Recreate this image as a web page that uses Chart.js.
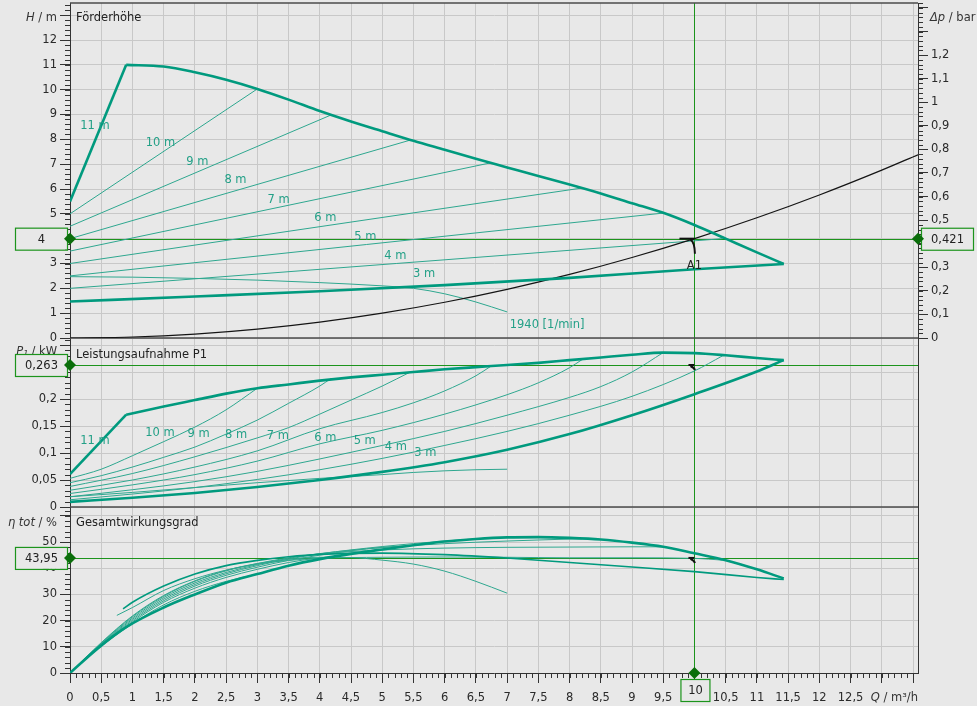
<!DOCTYPE html>
<html lang="de">
<head>
<meta charset="utf-8">
<title>Pumpenkennlinie</title>
<script src="https://cdn.jsdelivr.net/npm/chart.js@4.4.1/dist/chart.umd.min.js"></script>
<style>
  html, body { margin: 0; padding: 0; background: #e8e8e8; }
  #box { width: 977px; height: 706px; }
</style>
</head>
<body>
<div id="box"><canvas id="kennlinie" width="977" height="706"></canvas></div>
<script>
// Achsenbereiche
const mengeMax = 13.58;       // Q in m³/h
const hoeheMax = 13.49;       // H in m
const druckMax = 1.4209;      // Δp in bar (4 m ≙ 0,421 bar)
const leistungMax = 0.313;    // P1 in kW
const wirkungMax = 63.4;      // η in %

// Betriebspunkt A1
const betriebQ = 10;
const betriebH = 4;
const betriebDp = 0.421;
const betriebP = 0.263;
const betriebEta = 43.95;

// Förderhöhe [Q, H]
const h11 = [[0, 5.5], [0.9, 11.0]];
const hMax = [[0.9, 11.0], [1.5, 10.93], [2, 10.7], [2.5, 10.4], [3, 10.03], [3.5, 9.6], [4, 9.14], [4.5, 8.72], [5, 8.33], [5.5, 7.94], [6, 7.58], [6.5, 7.22], [7, 6.87], [7.5, 6.52], [8, 6.18], [8.5, 5.82], [9, 5.43], [9.5, 5.04], [10, 4.55], [10.5, 4.0], [11, 3.45], [11.43, 2.98]];
const h10 = [[0, 5.0], [3.0, 10.03]];
const h9 = [[0, 4.5], [4.18, 8.98]];
const h8 = [[0, 4.0], [5.45, 7.97]];
const h7 = [[0, 3.5], [6.73, 7.05]];
const h6 = [[0, 3.0], [8.2, 6.04]];
const h5 = [[0, 2.5], [9.5, 5.03]];
const h4 = [[0, 2.0], [10.45, 4.0]];
const h3 = [[0, 1.47], [2, 1.67], [4, 1.88], [6, 2.13], [8, 2.42], [10, 2.77], [11.43, 2.98]];
const h1940 = [[0, 2.47], [1, 2.45], [2, 2.4], [3, 2.33], [4, 2.23], [5, 2.1], [5.5, 2.0], [6, 1.78], [6.5, 1.45], [7, 1.05]];
const hAnlage = [[0, 0], [1, 0.04], [2, 0.16], [3, 0.36], [4, 0.64], [5, 1.0], [6, 1.44], [7, 1.96], [8, 2.56], [9, 3.24], [10, 4.0], [11, 4.84], [12, 5.76], [13, 6.76], [13.58, 7.38]];

// Leistungsaufnahme P1 [Q, kW]
const p11 = [[0, 0.061], [0.9, 0.171]];
const pMax = [[0.9, 0.171], [1.5, 0.186], [2, 0.198], [2.5, 0.21], [3, 0.22], [3.5, 0.227], [4, 0.234], [4.5, 0.24], [5, 0.245], [5.5, 0.25], [6, 0.255], [6.5, 0.259], [7, 0.263], [7.5, 0.267], [8, 0.272], [8.5, 0.277], [9, 0.282], [9.5, 0.286], [10, 0.285], [10.5, 0.281], [11, 0.276], [11.43, 0.272]];
const p10 = [[0, 0.053], [0.5, 0.07], [1, 0.095], [1.5, 0.121], [2, 0.148], [2.5, 0.18], [3, 0.22]];
const p9 = [[0, 0.045], [0.5, 0.058], [1, 0.074], [1.5, 0.092], [2, 0.111], [2.5, 0.135], [3, 0.161], [3.5, 0.192], [4, 0.224], [4.18, 0.238]];
const p8 = [[0, 0.038], [1, 0.062], [2, 0.093], [3, 0.128], [3.5, 0.147], [4, 0.172], [4.5, 0.198], [5, 0.224], [5.45, 0.25]];
const p7 = [[0, 0.031], [1, 0.05], [2, 0.074], [3, 0.104], [4, 0.145], [5, 0.175], [5.5, 0.193], [6, 0.215], [6.5, 0.243], [6.73, 0.26]];
const p6 = [[0, 0.025], [1, 0.041], [2, 0.06], [3, 0.085], [4, 0.117], [5, 0.142], [6, 0.172], [7, 0.208], [7.5, 0.23], [8, 0.258], [8.2, 0.273]];
const p5 = [[0, 0.019], [1, 0.032], [2, 0.047], [3, 0.066], [4, 0.089], [5, 0.114], [6, 0.14], [7, 0.17], [8, 0.203], [8.5, 0.223], [9, 0.25], [9.5, 0.286]];
const p4 = [[0, 0.0134], [1, 0.024], [2, 0.036], [3, 0.051], [4, 0.069], [5, 0.09], [6, 0.114], [7, 0.14], [8, 0.17], [9, 0.205], [10, 0.252], [10.45, 0.28]];
const p3 = [[0, 0.0095], [1, 0.017], [2, 0.026], [3, 0.037], [4, 0.05], [5, 0.065], [6, 0.083], [7, 0.106], [8, 0.135], [9, 0.17], [10, 0.209], [11, 0.251], [11.43, 0.272]];
const p1940 = [[0, 0.019], [1, 0.027], [2, 0.036], [3, 0.045], [4, 0.053], [5, 0.06], [5.5, 0.064], [6, 0.067], [6.5, 0.069], [7, 0.07]];

// Gesamtwirkungsgrad [Q, %]
const etaMax = [[0, 0], [0.45, 9.5], [0.9, 17.5], [1.5, 25], [2, 30], [2.5, 34.5], [3, 37.8], [3.5, 41], [4, 43.5], [4.5, 45.5], [5, 47.2], [5.5, 48.8], [6, 50.2], [6.5, 51.2], [7, 51.8], [7.5, 51.9], [8, 51.6], [8.5, 51], [9, 49.8], [9.5, 48.2], [10, 45.7], [10.5, 43.1], [11, 39.6], [11.43, 36.1]];
const eta10 = [[0, 0], [0.5, 10.2], [1, 18.8], [1.5, 26], [2, 31.2], [2.5, 35], [3, 37.8]];
const eta9 = [[0, 0], [0.5, 10.6], [1, 19.5], [1.5, 27], [2, 32.4], [2.5, 36.5], [3, 39.6], [3.5, 42.2], [4, 44], [4.18, 44.3]];
const eta8 = [[0, 0], [0.5, 10.8], [1, 20], [1.5, 27.6], [2, 33.2], [2.5, 37.3], [3, 40.4], [3.5, 43], [4, 45], [4.5, 46.7], [5, 48], [5.45, 48.7]];
const eta7 = [[0, 0], [0.5, 11], [1, 20.5], [1.5, 28.2], [2, 33.8], [2.5, 37.9], [3, 41], [3.5, 43.5], [4, 45.5], [5, 48.3], [6, 50.4], [6.73, 51.6]];
const eta6 = [[0, 0], [0.5, 11.2], [1, 21], [1.5, 28.8], [2, 34.4], [2.5, 38.4], [3, 41.4], [3.5, 43.8], [4, 45.6], [5, 47.9], [6, 49.4], [7, 50.4], [7.5, 50.8], [8.2, 51.3]];
const eta5 = [[0, 0], [0.5, 11.4], [1, 21.5], [1.5, 29.3], [2, 35], [2.5, 39], [3, 41.8], [3.5, 44], [4, 45.5], [5, 47], [6, 47.7], [7, 48], [8, 48.1], [9, 48.2], [9.5, 48.2]];
const eta4 = [[0.75, 22], [1, 25], [1.5, 31.5], [2, 36], [2.5, 39.3], [3, 41.6], [3.5, 43], [4, 43.8], [5, 44.2], [6, 44.3], [7, 44.2], [8, 44], [9, 44], [10, 43.8], [10.45, 43.1]];
const eta3 = [[0.85, 24.5], [1, 27], [1.5, 33.2], [2, 37.8], [2.5, 41], [3, 43], [3.5, 44.4], [4, 45.3], [5, 45.8], [6, 45.2], [7, 43.9], [8, 42.2], [9, 40.5], [10, 38.7], [11, 36.5], [11.43, 35.7]];
const eta1940 = [[0, 0], [0.5, 11.6], [1, 21.8], [1.5, 29.6], [2, 35.2], [2.5, 39.2], [3, 41.8], [3.5, 43.4], [4, 44.2], [4.5, 44.1], [5, 43.1], [5.5, 41.6], [6, 38.9], [6.5, 35], [7, 30.5]];

const TUERKIS = '#009a7e';
const TUERKIS_HELL = '#2ea78f';
const GRUEN = '#1c941c';
const SCHRIFT = '"DejaVu Sans", sans-serif';
const GROESSE = 11.5;

function kurve(daten, achse, dick, farbe) {
  return {
    data: daten,
    yAxisID: achse,
    borderColor: farbe || (dick ? TUERKIS : TUERKIS_HELL),
    borderWidth: dick || 1,
    pointRadius: 0,
    fill: false,
    cubicInterpolationMode: daten.length > 2 ? 'monotone' : 'default',
    tension: 0
  };
}

const datensaetze = [
  kurve(h11, 'yH', 2.6), kurve(hMax, 'yH', 2.6), kurve(h3, 'yH', 2.6),
  kurve(p11, 'yP', 2.6), kurve(pMax, 'yP', 2.6), kurve(p3, 'yP', 2.6),
  kurve(etaMax, 'yE', 2.6), kurve(eta3, 'yE', 1.6),
  kurve(hAnlage, 'yH', 1.2, '#141414'),
  kurve(h10, 'yH'), kurve(h9, 'yH'), kurve(h8, 'yH'), kurve(h7, 'yH'),
  kurve(h6, 'yH'), kurve(h5, 'yH'), kurve(h4, 'yH'), kurve(h1940, 'yH'),
  kurve(p10, 'yP'), kurve(p9, 'yP'), kurve(p8, 'yP'), kurve(p7, 'yP'),
  kurve(p6, 'yP'), kurve(p5, 'yP'), kurve(p4, 'yP'), kurve(p1940, 'yP'),
  kurve(eta10, 'yE'), kurve(eta9, 'yE'), kurve(eta8, 'yE'), kurve(eta7, 'yE'),
  kurve(eta6, 'yE'), kurve(eta5, 'yE'), kurve(eta4, 'yE'), kurve(eta1940, 'yE')
];

const zahl = v => String(Math.round(v * 1000) / 1000).replace('.', ',');

// Kurvenbeschriftungen (Q, Wert)
const texteH = [['11 m', 0.4, 8.54], ['10 m', 1.45, 7.85], ['9 m', 2.04, 7.09], ['8 m', 2.65, 6.36], ['7 m', 3.34, 5.56], ['6 m', 4.09, 4.83], ['5 m', 4.73, 4.07], ['4 m', 5.21, 3.3], ['3 m', 5.67, 2.58], ['1940 [1/min]', 7.64, 0.52]];
const texteP = [['11 m', 0.4, 0.1228], ['10 m', 1.44, 0.1365], ['9 m', 2.06, 0.1352], ['8 m', 2.66, 0.1333], ['7 m', 3.33, 0.1315], ['6 m', 4.09, 0.1275], ['5 m', 4.72, 0.1228], ['4 m', 5.22, 0.1105], ['3 m', 5.69, 0.0994]];

const feinteilung = [
  {achse: 'x', schritt: 0.1, bis: mengeMax},
  {achse: 'yH', schritt: 0.2, bis: hoeheMax},
  {achse: 'yP', schritt: 0.01, bis: leistungMax},
  {achse: 'yE', schritt: 2, bis: wirkungMax},
  {achse: 'yDp', schritt: 0.02, bis: druckMax}
];

function schrift(kursiv) {
  return (kursiv ? 'italic ' : '') + GROESSE + 'px ' + SCHRIFT;
}

function teileText(ctx, teile, x, y, rechtsbuendig) {
  let breite = 0;
  for (const [t, k] of teile) {
    ctx.font = schrift(k);
    breite += ctx.measureText(t).width;
  }
  let xx = rechtsbuendig ? x - breite : x;
  ctx.textAlign = 'left';
  ctx.textBaseline = 'middle';
  for (const [t, k] of teile) {
    ctx.font = schrift(k);
    ctx.fillText(t, xx, y);
    xx += ctx.measureText(t).width;
  }
}

function raute(ctx, x, y) {
  ctx.beginPath();
  ctx.moveTo(x, y - 6);
  ctx.lineTo(x + 6, y);
  ctx.lineTo(x, y + 6);
  ctx.lineTo(x - 6, y);
  ctx.closePath();
  ctx.fill();
}

function wertKasten(ctx, text, x1, x2, ym, hoehe) {
  ctx.fillStyle = '#e8e8e8';
  ctx.fillRect(x1, ym - hoehe / 2, x2 - x1, hoehe);
  ctx.strokeStyle = GRUEN;
  ctx.lineWidth = 1.2;
  ctx.strokeRect(x1 + 0.5, ym - hoehe / 2 + 0.5, x2 - x1, hoehe);
  ctx.fillStyle = '#222';
  ctx.font = schrift(false);
  ctx.textAlign = 'center';
  ctx.textBaseline = 'middle';
  ctx.fillText(text, (x1 + x2) / 2 + 0.5, ym + 1);
}

function markeA1(ctx, x, y, lang) {
  ctx.strokeStyle = '#111';
  ctx.lineWidth = 2;
  ctx.beginPath();
  ctx.moveTo(x - (lang ? 15 : 6), y);
  ctx.lineTo(x, y);
  ctx.stroke();
  ctx.beginPath();
  ctx.moveTo(x - 4, y + 1);
  ctx.quadraticCurveTo(x, y + 3, x + 0.5, y + (lang ? 15 : 5));
  ctx.stroke();
}

const feinStriche = {
  id: 'feinStriche',
  afterDraw(chart) {
    const {ctx, chartArea: a, scales} = chart;
    ctx.save();
    ctx.strokeStyle = '#333';
    ctx.lineWidth = 1;
    ctx.beginPath();
    for (const f of feinteilung) {
      const s = scales[f.achse];
      const n = Math.floor(f.bis / f.schritt + 1e-6);
      for (let i = 0; i <= n; i++) {
        const p = Math.round(s.getPixelForValue(i * f.schritt)) + 0.5;
        if (f.achse === 'x') { ctx.moveTo(p, a.bottom); ctx.lineTo(p, a.bottom + 5); }
        else if (f.achse === 'yDp') { ctx.moveTo(a.right, p); ctx.lineTo(a.right + 5, p); }
        else { ctx.moveTo(a.left - 5, p); ctx.lineTo(a.left, p); }
      }
    }
    ctx.stroke();
    ctx.restore();
  }
};

const zusatz = {
  id: 'zusatz',
  beforeDatasetsDraw(chart) {
    const {ctx, chartArea: a, scales: s} = chart;
    ctx.save();
    // Fadenkreuz des Betriebspunkts
    ctx.strokeStyle = GRUEN;
    ctx.lineWidth = 1;
    const px = Math.round(s.x.getPixelForValue(betriebQ)) + 0.5;
    ctx.beginPath();
    ctx.moveTo(px, a.top);
    ctx.lineTo(px, a.bottom);
    for (const [id, v] of [['yH', betriebH], ['yP', betriebP], ['yE', betriebEta]]) {
      const py = Math.round(s[id].getPixelForValue(v)) + 0.5;
      ctx.moveTo(a.left, py);
      ctx.lineTo(a.right, py);
    }
    ctx.stroke();
    // Rahmen oben und Trennlinien der Felder
    ctx.strokeStyle = '#4b4b4b';
    ctx.lineWidth = 1.6;
    ctx.beginPath();
    for (const y of [a.top, s.yH.bottom, s.yP.bottom]) {
      ctx.moveTo(a.left, y);
      ctx.lineTo(a.right, y);
    }
    ctx.stroke();
    ctx.restore();
  },
  afterDatasetsDraw(chart) {
    const {ctx, scales: s} = chart;
    ctx.save();
    ctx.fillStyle = '#23a087';
    ctx.font = schrift(false);
    ctx.textAlign = 'center';
    ctx.textBaseline = 'middle';
    for (const [t, q, v] of texteH) ctx.fillText(t, s.x.getPixelForValue(q), s.yH.getPixelForValue(v));
    for (const [t, q, v] of texteP) ctx.fillText(t, s.x.getPixelForValue(q), s.yP.getPixelForValue(v));

    const px = s.x.getPixelForValue(betriebQ);
    markeA1(ctx, px, s.yH.getPixelForValue(betriebH), true);
    markeA1(ctx, px, s.yP.getPixelForValue(betriebP), false);
    markeA1(ctx, px, s.yE.getPixelForValue(betriebEta), false);
    ctx.fillStyle = '#222';
    ctx.font = schrift(false);
    ctx.textAlign = 'center';
    ctx.fillText('A1', px, s.yH.getPixelForValue(betriebH) + 27);
    ctx.restore();
  },
  afterDraw(chart) {
    const {ctx, chartArea: a, scales: s} = chart;
    ctx.save();
    ctx.fillStyle = '#222';
    ctx.textBaseline = 'middle';
    ctx.font = schrift(false);
    ctx.textAlign = 'left';
    ctx.fillText('Förderhöhe', a.left + 6, s.yH.top + 15);
    ctx.fillText('Leistungsaufnahme P1', a.left + 6, s.yP.top + 17);
    ctx.fillText('Gesamtwirkungsgrad', a.left + 6, s.yE.top + 16);

    ctx.fillStyle = '#333';
    teileText(ctx, [['H', true], [' / m', false]], a.left - 13, s.yH.top + 15, true);
    teileText(ctx, [['P₁', true], [' / kW', false]], a.left - 13, s.yP.top + 14, true);
    teileText(ctx, [['η tot', true], [' / %', false]], a.left - 13, s.yE.top + 16, true);
    teileText(ctx, [['Δp', true], [' / bar', false]], a.right + 12, s.yH.top + 15, false);
    teileText(ctx, [['Q', true], [' / m³/h', false]], a.right, a.bottom + 25, true);

    // Ablesewerte mit Markierung an den Achsen
    const px = s.x.getPixelForValue(betriebQ);
    const pH = s.yH.getPixelForValue(betriebH);
    const pP = s.yP.getPixelForValue(betriebP);
    const pE = s.yE.getPixelForValue(betriebEta);
    wertKasten(ctx, zahl(betriebH), 15, 67, pH, 22);
    wertKasten(ctx, zahl(betriebP), 15, 67, pP, 22);
    wertKasten(ctx, zahl(betriebEta), 15, 67, pE, 22);
    wertKasten(ctx, zahl(betriebDp), a.right + 3, a.right + 55, s.yDp.getPixelForValue(betriebDp), 22);
    wertKasten(ctx, zahl(betriebQ), px - 14, px + 15, a.bottom + 17, 22);
    ctx.fillStyle = '#0b6e0b';
    raute(ctx, a.left, pH);
    raute(ctx, a.left, pP);
    raute(ctx, a.left, pE);
    raute(ctx, a.right, s.yDp.getPixelForValue(betriebDp));
    raute(ctx, px, a.bottom);
    ctx.restore();
  }
};

const tickSchrift = {family: SCHRIFT, size: GROESSE};
const rasterFarbe = '#c8c8c8';

function linkeAchse(min, max, schritt, gewicht, stapelGewicht, ausblenden) {
  return {
    type: 'linear', position: 'left', stack: 'links', stackWeight: stapelGewicht, weight: gewicht,
    min: min, max: max,
    grid: {color: rasterFarbe, tickColor: '#333', tickLength: 10},
    border: {color: '#333', width: 1},
    ticks: {
      stepSize: schritt, includeBounds: false, autoSkip: false, padding: 3,
      color: '#2a2a2a', font: tickSchrift,
      callback: v => (v > ausblenden ? '' : zahl(v))
    },
    afterFit: sc => { sc.width = 70; sc.paddingTop = 0; sc.paddingBottom = 0; }
  };
}

new Chart(document.getElementById('kennlinie'), {
  type: 'line',
  data: {datasets: datensaetze},
  options: {
    responsive: false,
    animation: false,
    devicePixelRatio: 1,
    layout: {padding: {top: 3, left: 0, right: 0, bottom: 0}},
    plugins: {legend: {display: false}, tooltip: {enabled: false}},
    scales: {
      x: {
        type: 'linear', position: 'bottom', min: 0, max: mengeMax,
        grid: {color: rasterFarbe, tickColor: '#333', tickLength: 10},
        border: {color: '#333', width: 1},
        ticks: {
          stepSize: 0.5, includeBounds: false, autoSkip: false, maxRotation: 0, minRotation: 0,
          padding: 8, color: '#2a2a2a', font: tickSchrift,
          callback: v => (v > 12.75 ? '' : zahl(v))
        },
        afterFit: sc => { sc.height = 33; sc.paddingLeft = 0; sc.paddingRight = 0; }
      },
      yH: linkeAchse(0, hoeheMax, 1, 2, 335, 12.5),
      yP: linkeAchse(0, leistungMax, 0.05, 1, 169, 0.27),
      yE: linkeAchse(0, wirkungMax, 10, 0, 166, 55),
      yDp: {
        type: 'linear', position: 'right', min: -druckMax, max: druckMax,
        grid: {
          drawOnChartArea: false, tickLength: 10,
          tickColor: c => (c.tick && c.tick.value < -1e-6 ? 'rgba(0,0,0,0)' : '#333')
        },
        border: {color: '#333', width: 1},
        ticks: {
          stepSize: 0.1, includeBounds: false, autoSkip: false, padding: 3,
          color: '#2a2a2a', font: tickSchrift,
          callback: v => (v < -1e-6 || v > 1.25 ? '' : zahl(v))
        },
        afterFit: sc => { sc.width = 59; sc.paddingTop = 0; sc.paddingBottom = 0; }
      }
    }
  },
  plugins: [feinStriche, zusatz]
});
</script>
</body>
</html>
